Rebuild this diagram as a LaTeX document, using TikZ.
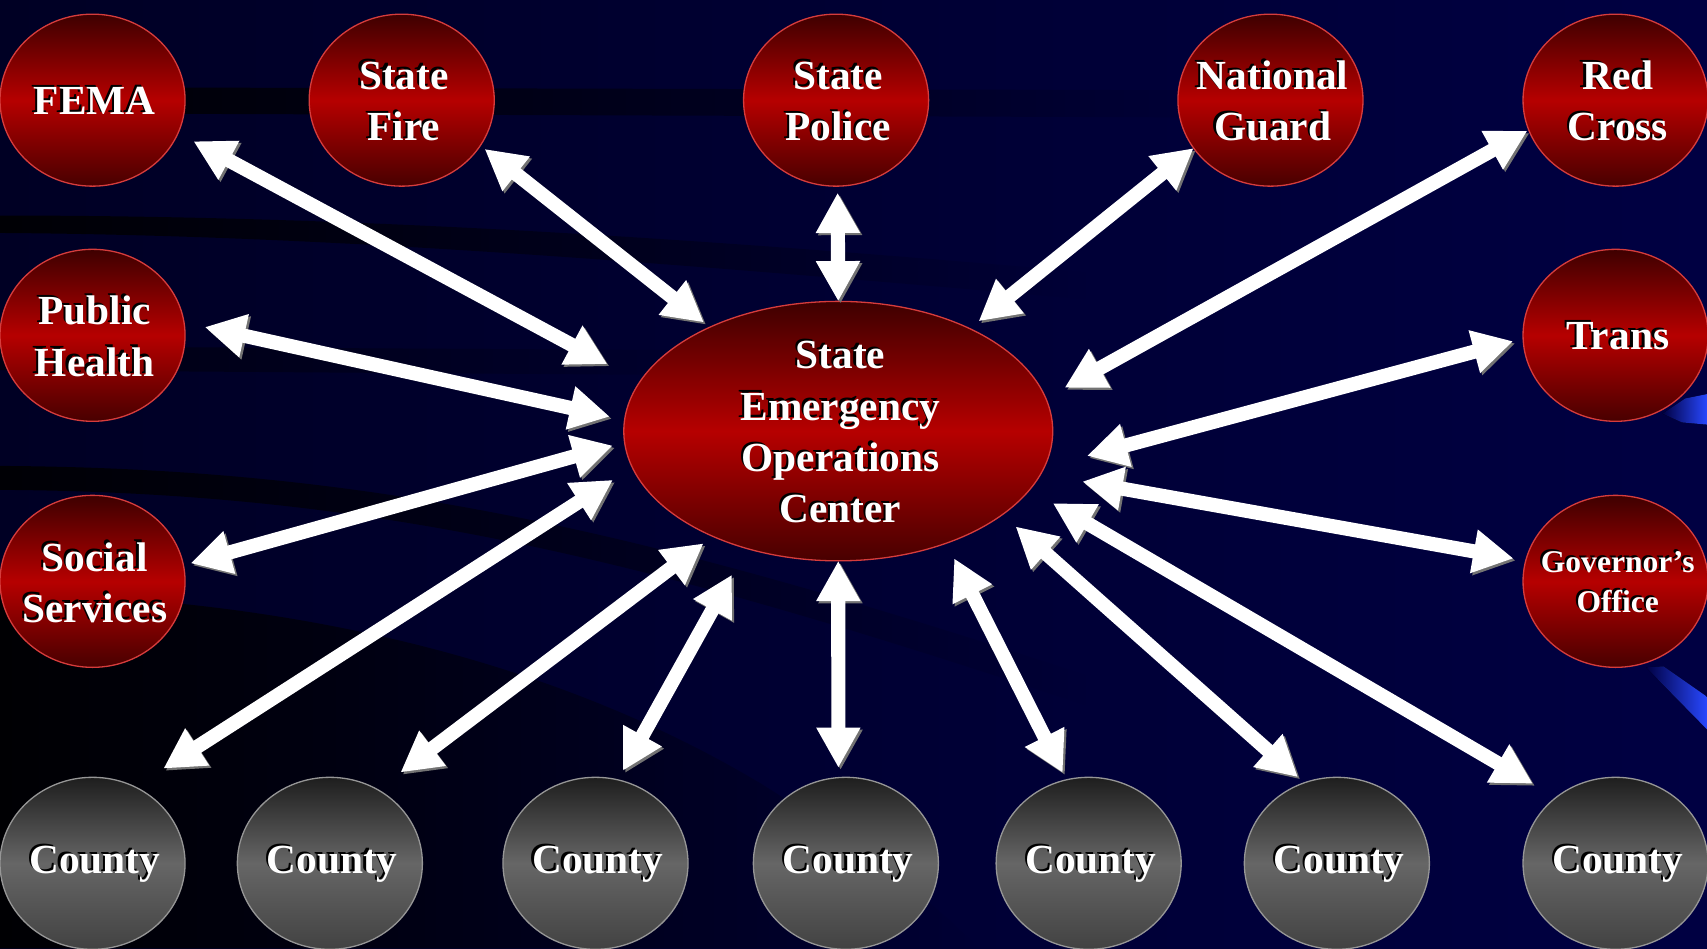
\documentclass[tikz,border=0pt]{standalone}
\usepackage{fontspec}
\setmainfont{Liberation Serif}
\usetikzlibrary{shapes.geometric,arrows.meta,fadings}

\definecolor{bgL}{RGB}{0,0,36}
\definecolor{bgR}{RGB}{0,0,66}
\definecolor{rtop}{RGB}{62,0,0}
\definecolor{rmid}{RGB}{182,0,0}
\definecolor{rbot}{RGB}{72,0,0}
\definecolor{rrim}{RGB}{214,60,60}
\definecolor{gtop}{RGB}{30,30,30}
\definecolor{gmid}{RGB}{102,102,102}
\definecolor{gbot}{RGB}{66,66,66}
\definecolor{grim}{RGB}{150,150,150}
\definecolor{shblue}{RGB}{40,72,255}

\newcommand\eline[1]{\makebox[0pt]{\textcolor{black}{#1}}\makebox[0pt]{\hspace{4pt}\raisebox{-2pt}{\textcolor{white}{#1}}}}

\tikzset{
  basenode/.style={ellipse, inner sep=0pt, outer sep=0pt, line width=1.2pt,
    align=center, font=\bfseries\fontsize{38}{47}\selectfont},
  rednode/.style={basenode, minimum width=170pt, minimum height=158pt,
    draw=rrim, top color=rtop, bottom color=rbot, middle color=rmid},
  graynode/.style={basenode, minimum width=170pt, minimum height=158pt,
    draw=grim, top color=gtop, bottom color=gbot, middle color=gmid},
  hubnode/.style={basenode, minimum width=394pt, minimum height=208pt,
    draw=rrim, top color=rtop, bottom color=rbot, middle color=rmid},
  link/.style={draw=white, line width=13pt,
    {Triangle[length=37pt,width=38pt]}-{Triangle[length=37pt,width=38pt]},
    preaction={draw=black!55, transform canvas={xshift=2pt,yshift=-2pt}}},
  swoosh/.style={fill=black, path fading=east}
}

\begin{document}
\begin{tikzpicture}[x=1pt,y=-1pt]
\useasboundingbox (0,0) rectangle (1568,871);
\begin{scope}
  \clip (0,0) rectangle (1568,871);
  \fill[left color=bgL, right color=bgR] (0,0) rectangle (1568,871);
  % dark swooshes
  \fill[swoosh, opacity=0.85] (0,80) -- (1150,83) -- (1150,108) -- (0,104) -- cycle;
  \fill[swoosh, opacity=0.85] (0,198) .. controls (300,198) and (600,215) .. (1000,250)
     -- (1000,275) .. controls (600,240) and (300,216) .. (0,214) -- cycle;
  \fill[swoosh, opacity=0.5] (0,318) -- (700,322) -- (700,345) -- (0,340) -- cycle;
  \fill[swoosh, opacity=0.85] (0,428) .. controls (350,430) and (600,490) .. (1000,620)
     -- (1000,648) .. controls (600,515) and (350,452) .. (0,450) -- cycle;
  \fill[swoosh, opacity=0.9] (0,545) .. controls (250,548) and (500,600) .. (700,720)
     .. controls (780,770) and (850,820) .. (900,871) -- (0,871) -- cycle;
  % blue streaks at the right edge
  \fill[left color=bgR, right color=shblue] (1527,380) -- (1548,366) -- (1568,362) -- (1568,390) -- (1545,388) -- cycle;
  \fill[left color=bgR, right color=shblue] (1512,613) -- (1528,612) -- (1568,640) -- (1568,670) -- cycle;
\end{scope}

% hub
\node[hubnode] (seoc) at (770,396) {\eline{State}\\\eline{Emergency}\\\eline{Operations}\\\eline{Center}};

% top row
\node[rednode] (fema)     at (85,92)   {\eline{FEMA}};
\node[rednode] (sfire)    at (369,92)  {\eline{State}\\\eline{Fire}};
\node[rednode] (spolice)  at (768,92)  {\eline{State}\\\eline{Police}};
\node[rednode] (nguard)   at (1167,92) {\eline{National}\\\eline{Guard}};
\node[rednode] (redcross) at (1484,92) {\eline{Red}\\\eline{Cross}};

% side columns
\node[rednode] (phealth) at (85,308)   {\eline{Public}\\\eline{Health}};
\node[rednode] (social)  at (85,534)   {\eline{Social}\\\eline{Services}};
\node[rednode] (trans)   at (1484,308) {\eline{Trans}};
\node[rednode, font=\bfseries\fontsize{29}{37}\selectfont] (gov) at (1484,534)
   {\eline{Governor’s}\\\eline{Office}};

% bottom row
\node[graynode] (c1) at (85,793)   {\eline{County}};
\node[graynode] (c2) at (303,793)  {\eline{County}};
\node[graynode] (c3) at (547,793)  {\eline{County}};
\node[graynode] (c4) at (777,793)  {\eline{County}};
\node[graynode] (c5) at (1000,793) {\eline{County}};
\node[graynode] (c6) at (1228,793) {\eline{County}};
\node[graynode] (c7) at (1484,793) {\eline{County}};

% connectors
\draw[link, shorten <=16pt, shorten >=34pt] (fema.-21) -- (seoc.166.7);
\draw[link, shorten <=5pt, shorten >=7pt] (sfire.-30.2) -- (seoc.141.7);
\draw[link, shorten <=6pt] (spolice.-89) -- (seoc.90);
\draw[link, shorten >=10.6pt] (nguard.-148.3) -- (seoc.38.2);
\draw[link, shorten <=1.4pt, shorten >=19.7pt] (redcross.-161.1) -- (seoc.9.5);
\draw[link, shorten <=19.5pt, shorten >=13.9pt] (phealth.8.4) -- (seoc.177.7);
\draw[link, shorten <=6.8pt, shorten >=11.2pt] (social.10.3) -- (seoc.-177.4);
\draw[link, shorten <=9.4pt, shorten >=40.7pt] (trans.-178.3) -- (seoc.-10.6);
\draw[link, shorten <=11.4pt, shorten >=38.9pt] (gov.167.7) -- (seoc.-12.4);
\draw[link, shorten <=31pt, shorten >=21.2pt] (c1.61) -- (seoc.-170.2);
\draw[link, shorten <=26.2pt, shorten >=10.7pt] (c2.57.5) -- (seoc.-140.6);
\draw[link, shorten <=9.5pt, shorten >=27.6pt] (c3.75.1) -- (seoc.-128.7);
\draw[link, shorten <=9pt] (c4.95) -- (seoc.-90);
\draw[link, shorten <=7.2pt, shorten >=15.7pt] (c5.105.1) -- (seoc.-46.7);
\draw[link, shorten <=7.8pt, shorten >=16.3pt] (c6.112.2) -- (seoc.-27.7);
\draw[link, shorten <=24.8pt, shorten >=24.6pt] (c7.132) -- (seoc.-17.6);
\end{tikzpicture}
\end{document}
